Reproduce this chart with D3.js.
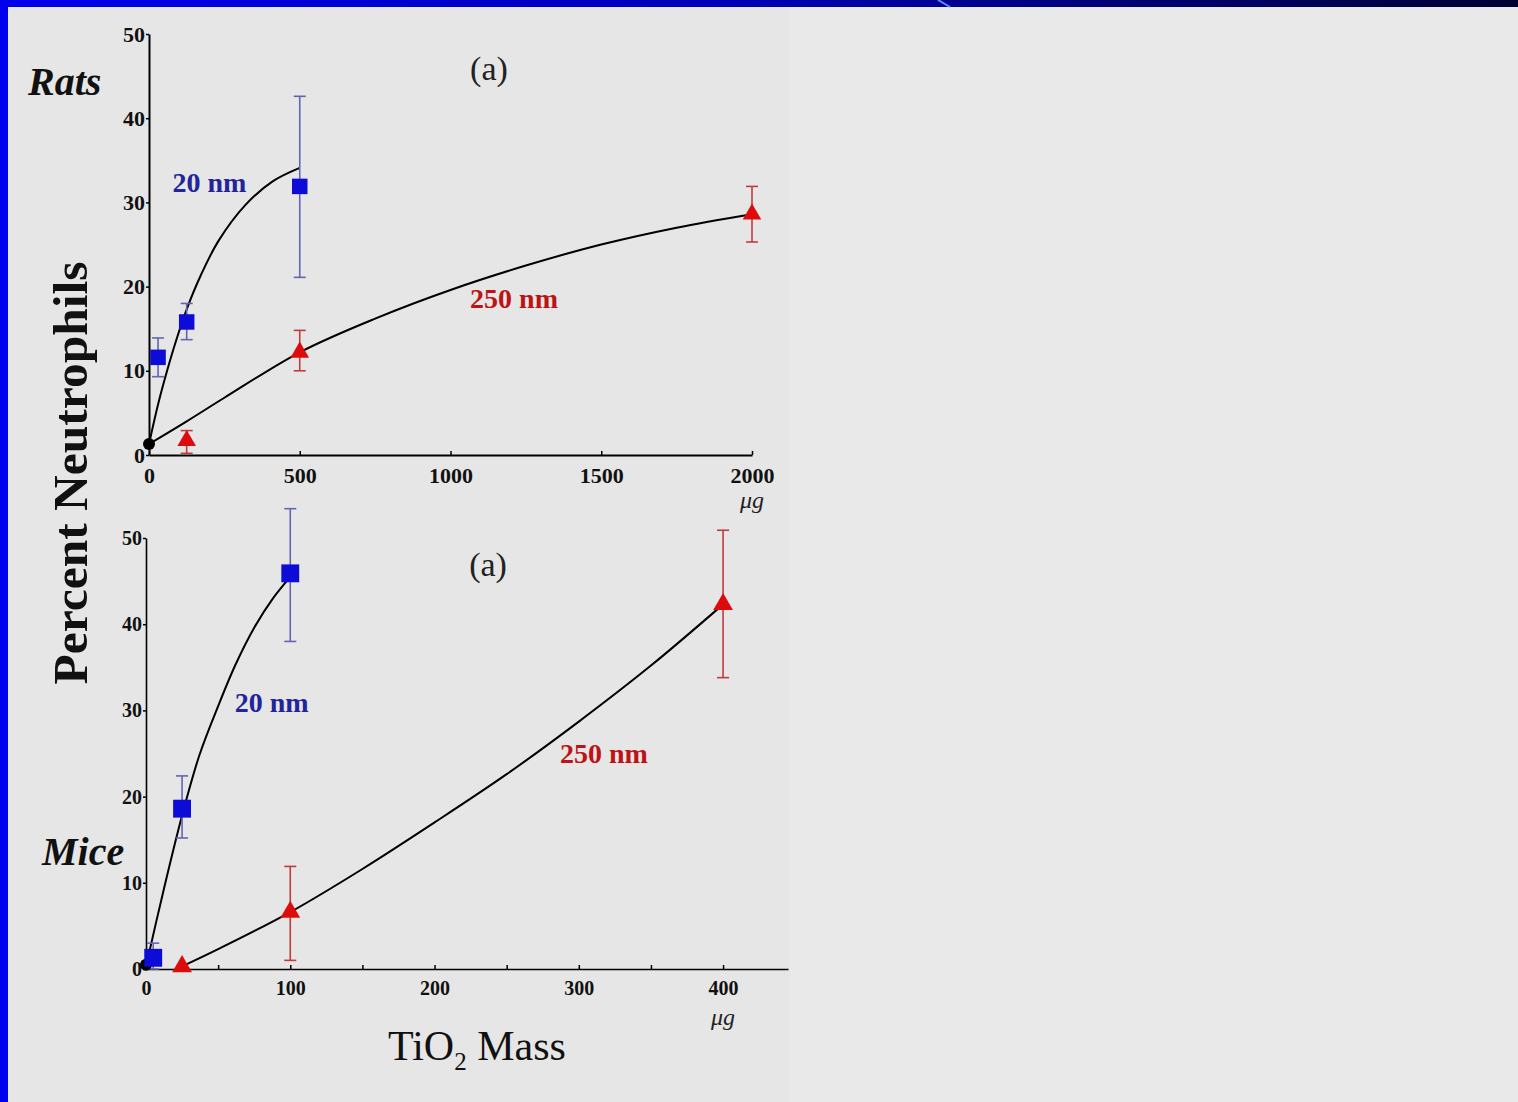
<!DOCTYPE html>
<html>
<head>
<meta charset="utf-8" />
<title>Percent Neutrophils vs TiO2 Mass</title>
<script src="https://d3js.org/d3.v7.min.js"></script>
<style>
  body { margin: 0; background: #e9e9e9; }
  svg { display: block; }
  text { font-family: "Liberation Serif", "Times New Roman", serif; }
</style>
</head>
<body>
<svg id="chart" width="1518" height="1102"></svg>
<script>
// ---- Rats (top panel), dose in ug ----
var ratsDose20 = [30, 125, 500];
var ratsPct20 = [11.6, 15.8, 31.9];
var ratsLow20 = [9.3, 13.7, 21.1];
var ratsHigh20 = [13.9, 18.0, 42.6];

var ratsDose250 = [125, 500, 2000];
var ratsPct250 = [1.7, 12.2, 28.6];
var ratsLow250 = [0.2, 10.0, 25.3];
var ratsHigh250 = [2.9, 14.8, 31.9];

var ratsControl = 1.3;

// fitted curves
var ratsCurveDose20 = [0, 30, 60, 90, 125, 170, 230, 320, 410, 500];
var ratsCurvePct20 = [1.3, 6.0, 10.0, 13.6, 17.3, 21.2, 25.4, 29.7, 32.5, 34.1];
var ratsCurveDose250 = [0, 125, 250, 500, 750, 1000, 1250, 1500, 1750, 2000];
var ratsCurvePct250 = [1.3, 4.0, 6.8, 12.2, 16.2, 19.6, 22.5, 25.0, 27.0, 28.6];

// ---- Mice (bottom panel) ----
var miceDose20 = [5, 25, 100];
var micePct20 = [1.3, 18.6, 45.9];
var miceLow20 = [0, 15.2, 38.0];
var miceHigh20 = [3.0, 22.4, 53.4];

var miceDose250 = [25, 100, 400];
var micePct250 = [0.3, 6.6, 42.3];
var miceLow250 = [0.3, 1.0, 33.8];
var miceHigh250 = [0.3, 11.9, 50.9];

var miceControl = 0.5;

var miceCurveDose20 = [0, 12, 25, 37, 50, 62, 75, 88, 100];
var miceCurvePct20 = [0.3, 9.0, 17.8, 24.8, 30.5, 35.3, 39.6, 43.0, 45.5];
var miceCurveDose250 = [25, 50, 100, 150, 200, 250, 300, 350, 400];
var miceCurvePct250 = [0.3, 2.3, 6.6, 11.6, 17.0, 22.6, 28.7, 35.2, 42.3];

// ---- ticks ----
var pctTicks = [0, 10, 20, 30, 40, 50];
var ratsDoseTicks = [0, 500, 1000, 1500, 2000];
var miceDoseTicks = [0, 50, 100, 150, 200, 250, 300, 350, 400];

var blue = "#0c0cd6";
var blueBar = "#6464b4";
var blueText = "#24249a";
var red = "#dc0c0c";
var redBar = "#c03c3c";
var redText = "#bc1414";

var svg = d3.select("#chart");

// slide background and blue frame
svg.append("rect").attr("width", 1518).attr("height", 1102).attr("fill", "#e9e9e9");
svg.append("rect").attr("x", 8).attr("y", 7).attr("width", 782).attr("height", 1095).attr("fill", "#e6e6e6");
var grad = svg.append("defs").append("linearGradient").attr("id", "topbar");
grad.append("stop").attr("offset", "0%").attr("stop-color", "#0000ee");
grad.append("stop").attr("offset", "50%").attr("stop-color", "#0000b4");
grad.append("stop").attr("offset", "100%").attr("stop-color", "#000034");
svg.append("rect").attr("width", 1518).attr("height", 7).attr("fill", "url(#topbar)");
svg.append("line").attr("x1", 938).attr("y1", 0).attr("x2", 950).attr("y2", 7)
  .attr("stroke", "#5c8cff").attr("stroke-width", 2);
svg.append("rect").attr("width", 8).attr("height", 1102).attr("fill", "#0000ee");

var zip = function(a, b) {
  return a.map(function(v, i) { return [v, b[i]]; });
};

var drawPanel = function(p) {
  var x = p.x, y = p.y;
  var g = svg.append("g");

  // y axis
  var yAxis = d3.axisLeft(y).tickValues(pctTicks).tickSizeInner(3).tickSizeOuter(0).tickPadding(1);
  var ya = g.append("g").attr("transform", "translate(" + x(0) + ",0)").call(yAxis);
  ya.select(".domain").attr("stroke", "#000").attr("stroke-width", p.axisWidth);
  ya.selectAll(".tick line").attr("stroke", "#000").attr("stroke-width", 1.5);
  ya.selectAll(".tick text").attr("fill", "#111").attr("font-size", p.tickFont)
    .attr("font-weight", "bold").attr("font-family", "Liberation Serif, serif");

  // x axis
  var xAxis = d3.axisBottom(x).tickValues(p.xTicks).tickSizeInner(-4).tickSizeOuter(0).tickPadding(12)
    .tickFormat(function(d) { return d % p.labelEvery === 0 ? d : ""; });
  var xa = g.append("g").attr("transform", "translate(0," + y(0) + ")").call(xAxis);
  xa.select(".domain").attr("stroke", "#000").attr("stroke-width", p.axisWidth);
  xa.selectAll(".tick line").attr("stroke", "#000").attr("stroke-width", 1.5);
  xa.selectAll(".tick text").attr("fill", "#111").attr("font-size", p.tickFont)
    .attr("font-weight", "bold").attr("font-family", "Liberation Serif, serif");

  // fitted curves
  var line = d3.line()
    .x(function(d) { return x(d[0]); })
    .y(function(d) { return y(d[1]); })
    .curve(d3.curveCatmullRom.alpha(0.5));
  p.curves.forEach(function(c) {
    g.append("path").datum(c).attr("d", line)
      .attr("fill", "none").attr("stroke", "#000").attr("stroke-width", 2);
  });

  // error bars
  p.series.forEach(function(s) {
    var pts = s.dose.map(function(d, i) {
      return { dose: d, pct: s.pct[i], lo: s.low[i], hi: s.high[i] };
    }).filter(function(d) { return d.hi > d.lo; });
    var eb = g.append("g").attr("stroke", s.barColor).attr("stroke-width", 1.6);
    eb.selectAll(".stem").data(pts).enter().append("line")
      .attr("x1", function(d) { return x(d.dose); })
      .attr("x2", function(d) { return x(d.dose); })
      .attr("y1", function(d) { return y(d.lo); })
      .attr("y2", function(d) { return y(d.hi); });
    ["lo", "hi"].forEach(function(k) {
      eb.selectAll(".cap-" + k).data(pts).enter().append("line")
        .attr("x1", function(d) { return x(d.dose) - 6; })
        .attr("x2", function(d) { return x(d.dose) + 6; })
        .attr("y1", function(d) { return y(d[k]); })
        .attr("y2", function(d) { return y(d[k]); });
    });
  });

  // control dot
  g.append("circle").attr("cx", x(0)).attr("cy", y(p.control)).attr("r", 6).attr("fill", "#000");

  // markers
  p.series.forEach(function(s) {
    var sym = d3.symbol().type(s.shape).size(s.size);
    g.selectAll(null).data(zip(s.dose, s.pct)).enter().append("path")
      .attr("d", sym)
      .attr("transform", function(d) { return "translate(" + x(d[0]) + "," + y(d[1]) + ")"; })
      .attr("fill", s.color);
  });

  // annotations
  p.notes.forEach(function(n) {
    g.append("text").attr("x", x(n.dose)).attr("y", y(n.pct))
      .attr("fill", n.color).attr("font-size", n.size).attr("font-weight", n.weight)
      .text(n.text);
  });

  // unit under last tick
  g.append("text").attr("x", x(p.unitAt)).attr("y", y(0) + p.unitDy)
    .attr("text-anchor", "middle").attr("font-style", "italic").attr("font-size", 24)
    .attr("fill", "#222").text("\u03bcg");
};

// top panel: rats
var xRats = d3.scaleLinear().domain([0, 2000]).range([149, 752]);
var yRats = d3.scaleLinear().domain([0, 50]).range([455, 34]);
drawPanel({
  x: xRats, y: yRats, xTicks: ratsDoseTicks, labelEvery: 500, tickFont: 22, axisWidth: 2,
  control: ratsControl, unitAt: 2000, unitDy: 53,
  curves: [zip(ratsCurveDose20, ratsCurvePct20), zip(ratsCurveDose250, ratsCurvePct250)],
  series: [
    { dose: ratsDose20, pct: ratsPct20, low: ratsLow20, high: ratsHigh20,
      color: blue, barColor: blueBar, shape: d3.symbolSquare, size: 240 },
    { dose: ratsDose250, pct: ratsPct250, low: ratsLow250, high: ratsHigh250,
      color: red, barColor: redBar, shape: d3.symbolTriangle, size: 150 }
  ],
  notes: [
    { text: "(a)", dose: 1065, pct: 44.5, color: "#222", size: 34, weight: "normal" },
    { text: "20 nm", dose: 78, pct: 31.2, color: blueText, size: 28, weight: "bold" },
    { text: "250 nm", dose: 1065, pct: 17.5, color: redText, size: 28, weight: "bold" }
  ]
});

// bottom panel: mice
var xMice = d3.scaleLinear().domain([0, 445]).range([146, 788]);
var yMice = d3.scaleLinear().domain([0, 50]).range([969, 538]);
drawPanel({
  x: xMice, y: yMice, xTicks: miceDoseTicks, labelEvery: 100, tickFont: 20, axisWidth: 1.6,
  control: miceControl, unitAt: 400, unitDy: 56,
  curves: [zip(miceCurveDose20, miceCurvePct20), zip(miceCurveDose250, miceCurvePct250)],
  series: [
    { dose: miceDose20, pct: micePct20, low: miceLow20, high: miceHigh20,
      color: blue, barColor: blueBar, shape: d3.symbolSquare, size: 320 },
    { dose: miceDose250, pct: micePct250, low: miceLow250, high: miceHigh250,
      color: red, barColor: redBar, shape: d3.symbolTriangle, size: 170 }
  ],
  notes: [
    { text: "(a)", dose: 224, pct: 45.6, color: "#222", size: 34, weight: "normal" },
    { text: "20 nm", dose: 61.5, pct: 29.8, color: blueText, size: 28, weight: "bold" },
    { text: "250 nm", dose: 287, pct: 23.9, color: redText, size: 28, weight: "bold" }
  ]
});

// panel titles and shared axis titles
svg.append("text").attr("x", 28).attr("y", 95).attr("font-size", 40)
  .attr("font-style", "italic").attr("font-weight", "bold").attr("fill", "#111").text("Rats");
svg.append("text").attr("x", 42).attr("y", 865).attr("font-size", 40)
  .attr("font-style", "italic").attr("font-weight", "bold").attr("fill", "#111").text("Mice");

svg.append("text")
  .attr("transform", "translate(87,473) rotate(-90)")
  .attr("text-anchor", "middle").attr("font-size", 48).attr("font-weight", "bold")
  .attr("textLength", 423).attr("lengthAdjust", "spacingAndGlyphs")
  .attr("fill", "#111").text("Percent Neutrophils");

var xt = svg.append("text").attr("x", 388).attr("y", 1060).attr("font-size", 42).attr("fill", "#111");
xt.append("tspan").text("TiO");
xt.append("tspan").attr("font-size", 25).attr("dy", 10).text("2");
xt.append("tspan").attr("dy", -10).text(" Mass");
</script>
</body>
</html>
